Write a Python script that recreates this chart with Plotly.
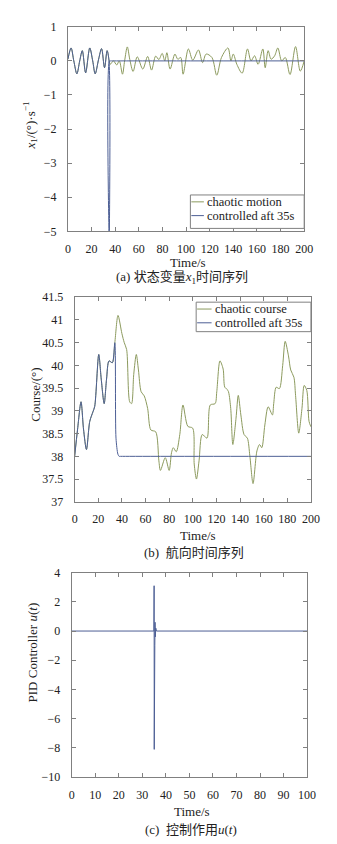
import plotly.graph_objects as go

# ---------------- data ----------------
# (a) state variable x1
a_chaotic_t = [0, 2.7, 5, 7.6, 10, 12.2, 15, 18.5, 21, 23.1, 26, 28.5, 31, 33.2, 35,
               35.8, 38.6, 41.3, 43.5, 46.2, 48, 50.3, 52.4, 55.2, 58.7, 63.4, 67.5, 70.8,
               74.3, 77, 79.8, 82, 83.8, 86.5, 90.6, 93, 95.5, 97.5, 102, 105.7, 110.5,
               114, 117, 121.9, 126, 130, 135.5, 138, 140, 143, 147.5, 152, 155, 158, 161,
               165, 167, 169.5, 172, 175, 177.7, 181, 184, 188, 192.7, 196.7, 200]
a_chaotic_x1 = [0.05, 0.38, 0.0, -0.38, 0.0, 0.3, -0.35, 0.38, 0.0, -0.38, 0.05, 0.36, -0.2, 0.3, 0.0,
                -0.1, 0.0, -0.12, 0.0, -0.39, 0.0, 0.41, 0.04, -0.31, 0.12, -0.24, 0.13, -0.27,
                0.14, 0.04, 0.22, 0.0, 0.24, -0.24, 0.2, 0.05, 0.1, -0.39, 0.35, 0.02, 0.32,
                -0.05, 0.2, 0.1, -0.42, 0.1, 0.38, 0.0, 0.2, -0.1, -0.36, 0.35, 0.0, 0.15, -0.1,
                0.35, -0.2, 0.3, 0.05, 0.15, 0.38, 0.0, 0.1, -0.4, 0.42, -0.3, 0.0]
a_ctrl_t = [0, 2.7, 5, 7.6, 10, 12.2, 15, 18.5, 21, 23.1, 26, 28.5, 31, 33.2, 34.8, 35.0, 35.2, 36, 37, 200]
a_ctrl_x1 = [0.05, 0.38, 0.0, -0.38, 0.0, 0.3, -0.35, 0.38, 0.0, -0.38, 0.05, 0.36, -0.2, 0.3, 0.0, -5.6, 0.0, 0.0, 0.0, 0.0]

# (b) course
b_chaotic_t = [0, 2.5, 5.4, 7.5, 10, 12.8, 15.5, 17, 20.4, 22.5, 25, 27, 29.1, 31.9, 34,
               36.7, 40, 42, 44, 46.6, 48.2, 50, 52.2, 54, 56.3, 58.9, 61.8, 64.5, 68.6, 71.3,
               72.6, 76.7, 80, 82, 83.5, 86, 89, 91.7, 95.8, 99.9, 101.2, 103.1, 105.3, 108,
               112, 114.8, 118.9, 120.3, 123, 125.7, 127.1, 129.8, 132, 133.9, 136.6, 138.5,
               140.7, 143.4, 146.2, 148.3, 151, 154.3, 156.5, 158.4, 161, 163.8, 167.4, 168.5,
               170.6, 173.3, 176.1, 178.2, 181, 182.9, 185.6, 187, 189.7, 192.4, 194.3, 196.5,
               198.4, 200]
b_chaotic_course = [38.0, 38.6, 39.2, 38.6, 38.15, 38.77, 38.98, 39.1, 40.24, 39.7, 39.16, 39.7, 40.1, 40.06, 40.5,
                    41.1, 40.7, 40.5, 40.35, 39.2, 39.16, 39.8, 40.24, 39.9, 39.42, 39.33, 39.05, 38.58, 38.54, 37.9,
                    37.69, 37.97, 37.69, 38.08, 38.19, 38.1, 38.48, 39.13, 38.66, 38.62, 37.83, 37.5, 37.9, 38.48,
                    38.4, 39.13, 39.16, 39.42, 40.1, 39.92, 39.52, 39.45, 39.09, 38.26, 38.84, 39.34,
                    38.91, 38.48, 38.4, 38.01, 37.4, 38.12, 38.26, 38.19, 38.69, 39.09, 38.91, 39.16,
                    39.52, 39.49, 40.0, 40.53, 40.21, 39.9, 39.74, 39.34, 38.51, 39.05, 39.56, 39.45,
                    38.77, 38.65]
b_ctrl_t = [0, 2.5, 5.4, 7.5, 10, 12.8, 15.5, 17, 20.4, 22.5, 25, 27, 29.1, 31.9, 34, 35, 36.6, 37.6, 38.4, 39.2, 200]
b_ctrl_course = [38.0, 38.6, 39.2, 38.6, 38.15, 38.77, 38.98, 39.1, 40.24, 39.7, 39.16, 39.7, 40.1, 40.06, 40.5, 38.4, 38.05, 38.0, 38.0, 38.0, 38.0]

# (c) PID controller output
c_t = [0, 34.9, 35.0, 35.05, 35.1, 35.15, 35.2, 35.3, 35.4, 35.5, 35.7, 36, 100]
c_u = [0, 0, 3.1, -8.1, 1.8, -2.7, 1.2, -1.0, 0.6, -0.4, 0.2, 0, 0]

# ---------------- style ----------------
GREEN = "#8c9a5e"
BLUE = "#4d5f95"
AXC = "#808080"
FONT = "Liberation Serif, Times New Roman, Noto Sans CJK SC, serif"
W, H = 337, 844

def py(p):
    return 1 - p / H

def px(p):
    return p / W

fig = go.Figure()
fig.add_trace(go.Scatter(x=a_chaotic_t, y=a_chaotic_x1, mode="lines", line=dict(color=GREEN, width=1, shape="spline", smoothing=0.9),
                         xaxis="x", yaxis="y", showlegend=False, name="chaotic motion"))
fig.add_trace(go.Scatter(x=a_ctrl_t, y=a_ctrl_x1, mode="lines", line=dict(color=BLUE, width=1, shape="spline", smoothing=0.9),
                         xaxis="x", yaxis="y", showlegend=False, name="controlled aft 35s"))
fig.add_trace(go.Scatter(x=b_chaotic_t, y=b_chaotic_course, mode="lines", line=dict(color=GREEN, width=1, shape="spline", smoothing=0.8),
                         xaxis="x2", yaxis="y2", showlegend=False, name="chaotic course"))
fig.add_trace(go.Scatter(x=b_ctrl_t, y=b_ctrl_course, mode="lines", line=dict(color=BLUE, width=1, shape="spline", smoothing=0.8),
                         xaxis="x2", yaxis="y2", showlegend=False, name="controlled aft 35s"))
fig.add_trace(go.Scatter(x=c_t, y=c_u, mode="lines", line=dict(color=BLUE, width=1),
                         xaxis="x3", yaxis="y3", showlegend=False, name="u(t)"))

def axis(domain, rng, dtick, anchor, standoff):
    return dict(domain=domain, range=rng, dtick=dtick, tick0=rng[0], anchor=anchor,
                showline=True, mirror="ticks", linecolor=AXC, linewidth=1,
                ticks="inside", ticklen=4, tickcolor=AXC, showgrid=False, zeroline=False,
                tickfont=dict(family=FONT, size=12, color="#222"), ticklabelstandoff=standoff)

fig.update_layout(
    width=W, height=H, margin=dict(l=0, r=0, t=0, b=0),
    paper_bgcolor="white", plot_bgcolor="white",
    font=dict(family=FONT, size=12, color="#222"),
    xaxis=axis([px(59), px(304)], [0, 200], 20, "y", 6),
    yaxis=axis([py(220), py(12)], [-5, 1], 1, "x", 8),
    xaxis2=axis([px(66), px(311)], [0, 200], 20, "y2", 6),
    yaxis2=axis([py(495), py(287)], [37, 41.5], 0.5, "x2", 8),
    xaxis3=axis([px(63), px(307)], [0, 100], 10, "y3", 6),
    yaxis3=axis([py(775), py(567)], [-10, 4], 2, "x3", 8),
)

ann = []
def text(x, y, s, size=13, angle=0, xanchor="center"):
    ann.append(dict(x=px(x), y=py(y), xref="paper", yref="paper", text=s, showarrow=False,
                    font=dict(family=FONT, size=size, color="#222"), textangle=angle,
                    xanchor=xanchor, yanchor="middle"))

# axis titles
text(184, 252, "Time/s")
text(194, 529, "Time/s")
text(188, 810, "Time/s")
text(20, 112, "<i>x</i><sub>1</sub>/(°)·s<sup>−1</sup>", angle=-90)
text(25, 386, "Course/(°)", angle=-90)
text(22, 648, "PID Controller <i>u</i>(<i>t</i>)", angle=-90)
# captions
text(177, 267, "(a) 状态变量<i>x</i><sub>1</sub>时间序列")
text(190, 547, "(b)  航向时间序列")
text(187, 828, "(c)  控制作用<i>u</i>(<i>t</i>)")

shapes = []
def legend_box(x0, y0, x1, y1):
    shapes.append(dict(type="rect", xref="paper", yref="paper", x0=px(x0), x1=px(x1), y0=py(y1), y1=py(y0),
                       line=dict(color=AXC, width=1), fillcolor="white", layer="above"))

def legend_item(x0, x1, y, color, label):
    shapes.append(dict(type="line", xref="paper", yref="paper", x0=px(x0), x1=px(x1), y0=py(y), y1=py(y),
                       line=dict(color=color, width=1), layer="above"))
    text(x1 + 1, y, label, size=12.5, xanchor="left")

legend_box(186, 183, 304, 217)
legend_item(187, 200, 190, GREEN, "chaotic motion")
legend_item(187, 200, 204, BLUE, "controlled aft 35s")
legend_box(192, 292, 311, 322)
legend_item(193, 208, 299, GREEN, "chaotic course")
legend_item(193, 208, 313, BLUE, "controlled aft 35s")

fig.update_layout(annotations=ann, shapes=shapes)
fig.write_html("out.html")
